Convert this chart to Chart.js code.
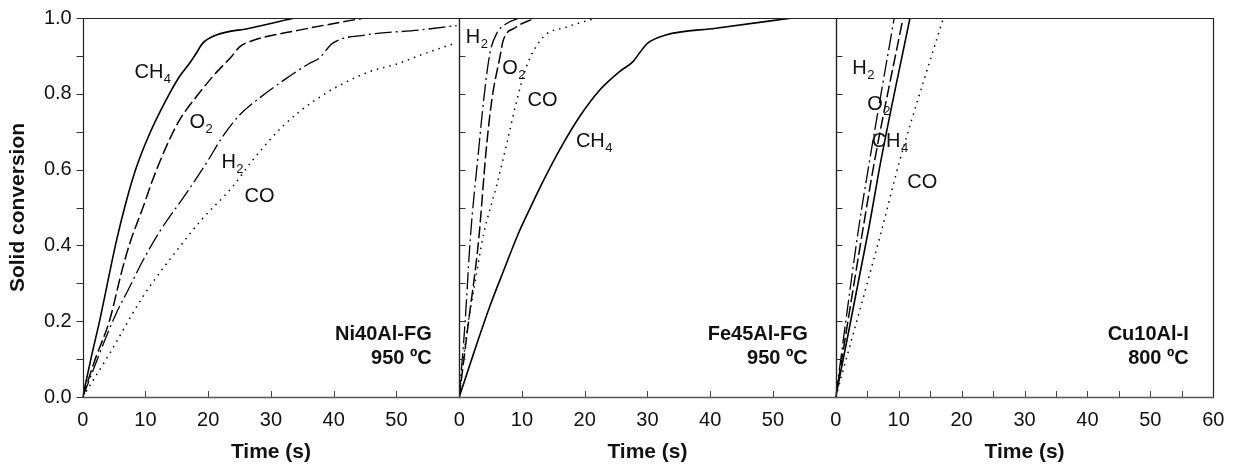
<!DOCTYPE html>
<html><head><meta charset="utf-8">
<script src="https://cdn.jsdelivr.net/npm/chart.js@4.4.0/dist/chart.umd.min.js"></script>
<style>
html,body{margin:0;padding:0;background:#fff;}
#wrap{position:relative;width:1239px;height:470px;overflow:hidden;background:#fff;}
canvas{position:absolute;top:0;}
</style></head><body>
<div id="wrap">
<canvas id="c1" width="480" height="470" style="left:0px"></canvas>
<canvas id="c2" width="420" height="470" style="left:440px"></canvas>
<canvas id="c3" width="419" height="470" style="left:820px"></canvas>
</div>
<script>
// ---------- tick values / labels ----------
const xTicksMajor = [0, 10, 20, 30, 40, 50, 60];
const xTicksCu = [0, 5, 10, 15, 20, 25, 30, 35, 40, 45, 50, 55, 60];
const xLabelsNiFe = [0, 10, 20, 30, 40, 50];
const xLabelsCu = [0, 10, 20, 30, 40, 50, 60];
const yTicks = [0, 0.1, 0.2, 0.3, 0.4, 0.5, 0.6, 0.7, 0.8, 0.9, 1.0];
const yTickLabels = ['0.0', '0.2', '0.4', '0.6', '0.8', '1.0'];

// ---------- Ni40Al-FG, 950 ºC ----------
const niCH4_t = [0, 1.3, 2.75, 5.4, 7, 8.6, 10.7, 13.3, 15.4, 17, 18.1, 19.1, 21.3, 26.6, 33.7];
const niCH4_v = [0, 0.1, 0.205, 0.414, 0.52, 0.608, 0.696, 0.784, 0.845, 0.88, 0.907, 0.933, 0.955, 0.973, 1.0];
const niO2_t = [0, 2, 4.3, 6.2, 7.5, 9.6, 11.2, 13.3, 15.4, 18.1, 20.7, 23.9, 25, 27, 34.5, 44.8];
const niO2_v = [0, 0.1, 0.203, 0.33, 0.405, 0.5, 0.575, 0.66, 0.73, 0.792, 0.845, 0.902, 0.924, 0.94, 0.968, 1.0];
const niH2_t = [0, 5.1, 7.5, 9.6, 12.4, 16.5, 19.7, 22.3, 25, 28.1, 32.4, 36.1, 37.7, 39.8, 45, 53.5, 59.6];
const niH2_v = [0, 0.212, 0.291, 0.36, 0.44, 0.537, 0.617, 0.687, 0.744, 0.788, 0.84, 0.88, 0.894, 0.933, 0.955, 0.968, 0.98];
const niCO_t = [0, 4.3, 9.6, 16.3, 18.9, 23.9, 27.1, 31.8, 37.1, 45, 50.3, 53.5, 59.6];
const niCO_v = [0, 0.115, 0.265, 0.414, 0.467, 0.555, 0.625, 0.713, 0.784, 0.854, 0.88, 0.9, 0.935];

// ---------- Fe45Al-FG, 950 ºC ----------
const feCH4_t = [0, 2.5, 4.9, 7, 9.4, 11.5, 13.4, 16.0, 19.2, 22.4, 25.5, 27.7, 28.7, 30.0, 32.9, 40.9, 53.1];
const feCH4_v = [0, 0.125, 0.24, 0.33, 0.43, 0.505, 0.57, 0.652, 0.74, 0.81, 0.858, 0.885, 0.907, 0.933, 0.955, 0.973, 1.0];
const feO2_t = [0, 1.5, 3.1, 4.3, 5.2, 6.5, 7.0, 9, 12.1];
const feO2_v = [0, 0.2, 0.414, 0.652, 0.784, 0.898, 0.94, 0.975, 1.0];
const feH2_t = [0, 0.95, 1.75, 3.1, 3.9, 4.9, 6.0, 7.5, 9.6];
const feH2_v = [0, 0.2, 0.414, 0.652, 0.784, 0.907, 0.96, 0.985, 1.0];
const feCO_t = [0, 1.2, 2.5, 3.9, 6.0, 7.6, 9.2, 10.7, 13.4, 17.1, 21.9];
const feCO_v = [0, 0.17, 0.3, 0.43, 0.56, 0.67, 0.784, 0.871, 0.95, 0.976, 1.0];

// ---------- Cu10Al-I, 800 ºC ----------
const cuCH4_t = [0, 5.2, 7.2, 11.8];
const cuCH4_v = [0, 0.44, 0.625, 1.0];
const cuO2_t = [0, 4.3, 6.2, 10.7];
const cuO2_v = [0, 0.44, 0.625, 1.0];
const cuH2_t = [0, 3.6, 5.4, 9.3];
const cuH2_v = [0, 0.44, 0.625, 1.0];
const cuCO_t = [0, 7.3, 10.2, 17.1];
const cuCO_v = [0, 0.44, 0.625, 1.0];

// ---------- panel texts ----------
const panelNames = ['Ni40Al-FG', 'Fe45Al-FG', 'Cu10Al-I'];
const panelTemps = ['950 ºC', '950 ºC', '800 ºC'];
const gasMain = {CH4: 'CH', O2: 'O', H2: 'H', CO: 'CO'};
const gasSub = {CH4: '4', O2: '2', H2: '2', CO: ''};

// curve label anchors (time, conversion) — order CH4, O2, H2, CO
const labelGas = ['CH4', 'O2', 'H2', 'CO'];
const niLabel_t = [8.25, 17.0, 22.1, 25.8];
const niLabel_v = [0.841, 0.71, 0.603, 0.514];
const feLabel_t = [18.6, 6.87, 1.06, 10.9];
const feLabel_v = [0.659, 0.852, 0.935, 0.768];
const cuLabel_t = [5.71, 5.02, 2.63, 11.37];
const cuLabel_v = [0.66, 0.757, 0.852, 0.551];

// ---------- styles ----------
const FONT = '"Liberation Sans", Arial, Helvetica, sans-serif';
const STYLE = {
  CH4: {w: 1.6, dash: []},
  O2: {w: 1.5, dash: [12, 4]},
  H2: {w: 1.3, dash: [17, 4, 2, 4]},
  CO: {w: 1.5, dash: [1.5, 5]}
};

function decor(p) {
  return {
    id: 'decor_' + p.id,
    afterDatasetsDraw(chart) {
      const ctx = chart.ctx, a = chart.chartArea, xs = chart.scales.x, ys = chart.scales.y;
      ctx.save();
      // x tick marks (inward)
      ctx.strokeStyle = '#444'; ctx.lineWidth = 1;
      p.xTicks.forEach(v => {
        const px = Math.round(xs.getPixelForValue(v)) + 0.5;
        ctx.beginPath(); ctx.moveTo(px, a.bottom); ctx.lineTo(px, a.bottom - 6); ctx.stroke();
      });
      // y tick marks
      ctx.strokeStyle = '#333';
      yTicks.forEach(v => {
        const py = Math.round(ys.getPixelForValue(v)) + 0.5;
        const lx = Math.round(a.left) + 0.5;
        ctx.beginPath();
        if (p.yOut) { ctx.moveTo(lx - 7, py); ctx.lineTo(lx, py); }
        else { ctx.moveTo(lx, py); ctx.lineTo(lx + 6, py); }
        ctx.stroke();
      });
      // frame
      const L = Math.round(a.left) + 0.5, R = Math.round(a.right) + 0.5;
      const T = Math.round(a.top) + 0.5, B = Math.round(a.bottom) + 0.5;
      ctx.strokeStyle = '#222'; ctx.lineWidth = 1.2;
      ctx.beginPath(); ctx.moveTo(L, B); ctx.lineTo(L, T); ctx.lineTo(R, T); ctx.lineTo(R, B); ctx.stroke();
      ctx.strokeStyle = '#555'; ctx.lineWidth = 1.6;
      ctx.beginPath(); ctx.moveTo(L - 0.5, B); ctx.lineTo(R + 0.5, B); ctx.stroke();
      // curve labels
      ctx.fillStyle = '#111'; ctx.textAlign = 'left'; ctx.textBaseline = 'alphabetic';
      labelGas.forEach((g, i) => {
        const x = xs.getPixelForValue(p.lt[i]);
        const y = ys.getPixelForValue(p.lv[i]);
        ctx.font = '20px ' + FONT;
        ctx.fillText(gasMain[g], x, y);
        if (gasSub[g]) {
          const w = ctx.measureText(gasMain[g]).width;
          ctx.font = '13px ' + FONT;
          ctx.fillText(gasSub[g], x + w + 0.5, y + 5);
        }
      });
      // panel annotation
      ctx.textAlign = 'right';
      ctx.font = 'bold 20px ' + FONT;
      ctx.fillText(p.name, a.right - p.annR, 340);
      ctx.fillText(p.temp, a.right - p.annR, 364.3);
      ctx.restore();
    }
  };
}

function series(name, t, v) {
  return {
    label: name,
    data: t.map((tt, i) => ({x: tt, y: v[i]})),
    borderColor: '#000',
    borderWidth: STYLE[name].w,
    borderDash: STYLE[name].dash,
    borderCapStyle: 'butt',
    pointRadius: 0,
    fill: false,
    cubicInterpolationMode: 'monotone'
  };
}

function makeChart(p) {
  new Chart(document.getElementById(p.id), {
    type: 'line',
    data: {datasets: p.datasets},
    options: {
      responsive: false, animation: false, devicePixelRatio: 1,
      layout: {padding: p.pad},
      plugins: {legend: {display: false}, tooltip: {enabled: false}},
      scales: {
        x: {
          type: 'linear', min: 0, max: 60,
          grid: {display: false, drawTicks: true, tickLength: 11.5}, border: {display: false},
          afterBuildTicks: sc => { sc.ticks = p.xTicks.map(v => ({value: v})); },
          ticks: {autoSkip: false, maxRotation: 0, padding: 0, color: '#111',
                  font: {family: FONT, size: 20},
                  callback: v => (p.xLabels.includes(v) ? String(v) : '')},
          title: {display: true, text: 'Time (s)', color: '#111',
                  font: {family: FONT, size: 21, weight: 'bold'}, padding: {top: 0, bottom: 5.2}},
          afterFit: sc => { sc.height = 73; }
        },
        y: {
          type: 'linear', min: 0, max: 1, display: p.showY,
          grid: {display: false, drawTicks: true, tickLength: 11}, border: {display: false},
          afterBuildTicks: sc => { sc.ticks = yTicks.map(v => ({value: v})); },
          ticks: {autoSkip: false, padding: 0, color: '#111',
                  font: {family: FONT, size: 20},
                  callback: v => (yTickLabels.includes(v.toFixed(1)) ? v.toFixed(1) : '')},
          title: {display: true, text: 'Solid conversion', color: '#111',
                  font: {family: FONT, size: 21, weight: 'bold'}, padding: {top: 5.4, bottom: 0}},
          afterFit: sc => { if (p.showY) sc.width = 82.7; else sc.width = 0; }
        }
      }
    },
    plugins: [decor(p)]
  });
}

makeChart({
  id: 'c1', showY: true, yOut: true, pad: {top: 18, left: 0, right: 480 - 459.2, bottom: 0},
  xTicks: xTicksMajor, xLabels: xLabelsNiFe, name: panelNames[0], temp: panelTemps[0], annR: 27.5,
  lt: niLabel_t, lv: niLabel_v,
  datasets: [series('CH4', niCH4_t, niCH4_v), series('O2', niO2_t, niO2_v), series('H2', niH2_t, niH2_v), series('CO', niCO_t, niCO_v)]
});
makeChart({
  id: 'c2', showY: false, yOut: false, pad: {top: 18, left: 459.2 - 440, right: 860 - 835.7, bottom: 0},
  xTicks: xTicksMajor, xLabels: xLabelsNiFe, name: panelNames[1], temp: panelTemps[1], annR: 28,
  lt: feLabel_t, lv: feLabel_v,
  datasets: [series('CH4', feCH4_t, feCH4_v), series('O2', feO2_t, feO2_v), series('H2', feH2_t, feH2_v), series('CO', feCO_t, feCO_v)]
});
makeChart({
  id: 'c3', showY: false, yOut: false, pad: {top: 18, left: 835.7 - 820, right: 1239 - 1213.3, bottom: 0},
  xTicks: xTicksCu, xLabels: xLabelsCu, name: panelNames[2], temp: panelTemps[2], annR: 24.5,
  lt: cuLabel_t, lv: cuLabel_v,
  datasets: [series('CH4', cuCH4_t, cuCH4_v), series('O2', cuO2_t, cuO2_v), series('H2', cuH2_t, cuH2_v), series('CO', cuCO_t, cuCO_v)]
});
</script>
</body></html>
